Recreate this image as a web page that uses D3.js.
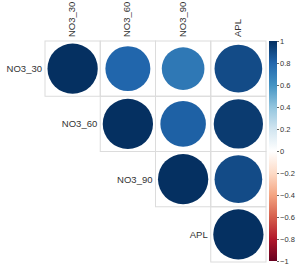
<!DOCTYPE html>
<html><head><meta charset="utf-8">
<script src="https://cdn.jsdelivr.net/npm/d3@7"></script>
<style>body{margin:0;background:#fff}svg{display:block}text{font-family:"Liberation Sans",Arial,sans-serif}</style>
</head><body><div id="chart"></div>
<script>
const variables = ["NO3_30", "NO3_60", "NO3_90", "APL"];
// upper-triangle correlation values, row by row (starting at diagonal)
const rowNO3_30 = [1, 0.80, 0.72, 0.90];
const rowNO3_60 = [1, 0.82, 0.96];
const rowNO3_90 = [1, 0.90];
const rowAPL = [1];
const colorbarTicks = [1, 0.8, 0.6, 0.4, 0.2, 0, -0.2, -0.4, -0.6, -0.8, -1];
const palette = ["#67001F", "#B2182B", "#D6604D", "#F4A582", "#FDDBC7", "#FFFFFF", "#D1E5F0", "#92C5DE", "#4393C3", "#2166AC", "#053061"];

const rows = [rowNO3_30, rowNO3_60, rowNO3_90, rowAPL];
const cells = [];
rows.forEach((r, i) => r.forEach((v, k) => cells.push({row: i, col: i + k, value: v})));

const W = 300, H = 275;
const svg = d3.select("#chart").append("svg").attr("width", W).attr("height", H);

const x = d3.scaleBand().domain(variables).range([45, 266]).padding(0);
const y = d3.scaleBand().domain(variables).range([41, 262]).padding(0);
const color = d3.scaleLinear().domain(d3.range(11).map(i => -1 + i * 0.2)).range(palette).interpolate(d3.interpolateRgb);
const bw = x.bandwidth();

// cells
svg.append("g").selectAll("rect").data(cells).join("rect")
  .attr("x", d => x(variables[d.col])).attr("y", d => y(variables[d.row]))
  .attr("width", bw).attr("height", y.bandwidth())
  .attr("fill", "none").attr("stroke", "#dcdcdc").attr("stroke-width", 1);

svg.append("g").selectAll("circle").data(cells).join("circle")
  .attr("cx", d => x(variables[d.col]) + bw / 2)
  .attr("cy", d => y(variables[d.row]) + y.bandwidth() / 2)
  .attr("r", d => 0.455 * bw * Math.sqrt(Math.abs(d.value)))
  .attr("fill", d => color(d.value));

// row labels
svg.append("g").selectAll("text").data(variables).join("text")
  .attr("x", (d, i) => x(d) - 3).attr("y", d => y(d) + y.bandwidth() / 2)
  .attr("text-anchor", "end").attr("dominant-baseline", "central")
  .attr("font-size", 9.5).attr("fill", "#333").text(d => d);

// column labels
svg.append("g").selectAll("text").data(variables).join("text")
  .attr("transform", d => `translate(${x(d) + bw / 2 - 1},37) rotate(-90)`)
  .attr("text-anchor", "start").attr("dominant-baseline", "central")
  .attr("font-size", 9.5).attr("fill", "#333").text(d => d);

// colorbar
const cb = d3.scaleLinear().domain([-1, 1]).range([261, 41]);
const defs = svg.append("defs");
const grad = defs.append("linearGradient").attr("id", "cbg").attr("x1", 0).attr("y1", 1).attr("x2", 0).attr("y2", 0);
palette.forEach((c, i) => grad.append("stop").attr("offset", i / 10).attr("stop-color", c));
svg.append("rect").attr("x", 269).attr("y", cb(1)).attr("width", 8).attr("height", cb(-1) - cb(1)).attr("fill", "url(#cbg)");
const axis = d3.axisRight(cb).tickValues(colorbarTicks).tickSize(2).tickFormat(d => d3.format("~g")(d));
const ag = svg.append("g").attr("transform", "translate(277,0)").call(axis);
ag.select(".domain").remove();
ag.selectAll("line").attr("stroke", "#666");
ag.selectAll("text").attr("font-size", 7.5).attr("fill", "#333").attr("x", 3).attr("font-family", '"Liberation Sans",Arial,sans-serif');
</script></body></html>
